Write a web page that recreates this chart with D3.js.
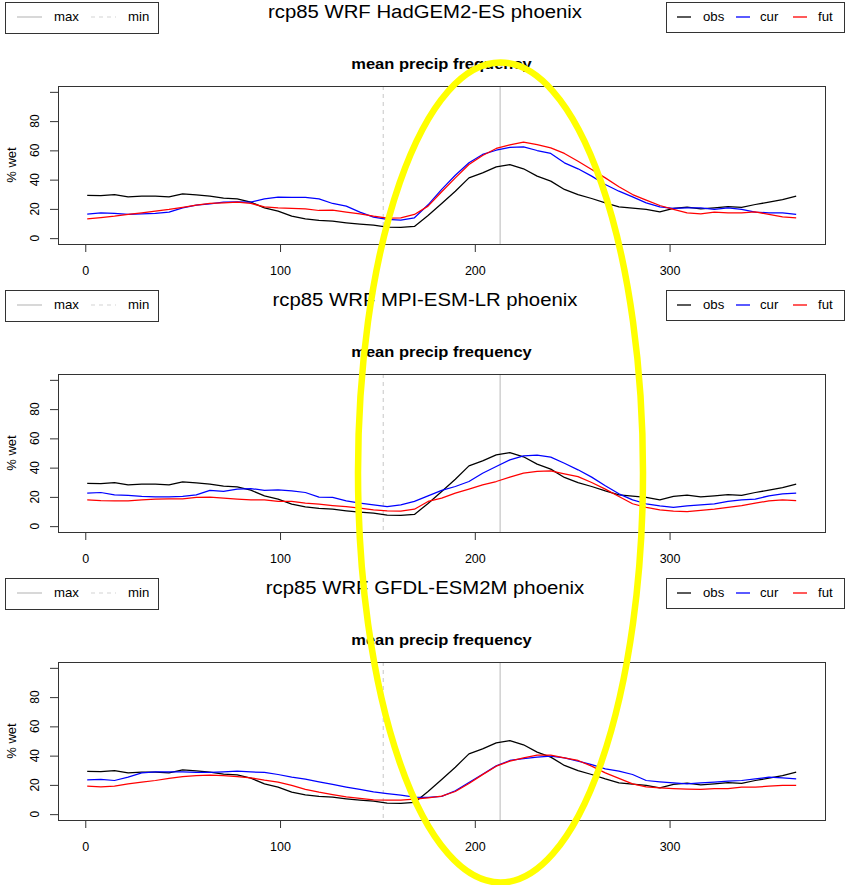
<!DOCTYPE html>
<html>
<head>
<meta charset="utf-8">
<script src="https://cdn.jsdelivr.net/npm/d3@7"></script>
<style>
  body { margin: 0; background: #fff; }
  svg { display: block; }
  text { font-family: "Liberation Sans", Arial, Helvetica, sans-serif; fill: #000; }
</style>
</head>
<body>
<div id="chart"></div>
<script>
const days = [1, 8, 15, 22, 29, 36, 43, 50, 57, 64, 71, 78, 85, 92, 99, 106, 113, 120, 127, 134,
  141, 148, 155, 162, 169, 176, 183, 190, 197, 204, 211, 218, 225, 232, 239, 246, 253, 260, 267, 274,
  281, 288, 295, 302, 309, 316, 323, 330, 337, 344, 351, 358, 365];

// observed % wet days (same in every panel)
const obs = [29.2, 29, 29.8, 28.2, 28.7, 28.7, 28.2, 30.3, 29.6, 28.7, 27.3, 26.9, 24.6, 20.7, 18.5, 15, 13.2, 12.1, 11.6, 10.5,
  9.6, 8.9, 7.5, 7.3, 8.0, 15.5, 23.7, 32.1, 41.2, 44.6, 48.7, 50.3, 47.4, 42.4, 39, 33.3, 29.8, 27.1, 24.1, 21.4,
  20.5, 19.6, 18, 20.3, 21.2, 20, 20.7, 21.6, 21, 23, 24.6, 26.4, 28.7];

// HadGEM2-ES
const curHadGEM = [16.4, 17.3, 16.9, 16.2, 16.6, 16.9, 17.8, 20.7, 22.5, 23.5, 24.6, 24.8, 24.6, 26.9, 28, 27.8, 27.8, 26.9, 23.7, 21.9,
  17.8, 14.4, 12.8, 12.3, 13.9, 22.8, 33.3, 43, 51.5, 57.2, 60.1, 62, 62.4, 59.9, 57.9, 51.5, 47.4, 42.4, 36.7, 32.1,
  28.2, 24.1, 21.4, 20.3, 20.7, 20.7, 19.6, 20.7, 19.6, 17.8, 17.3, 17.3, 16.2];
const futHadGEM = [13.2, 14.1, 15, 16.2, 17.3, 18.5, 19.6, 21, 22.5, 23.7, 24.1, 24.6, 23.7, 21.4, 20.7, 20.3, 20, 18.9, 19.1, 17.8,
  16.6, 15, 13.7, 13.9, 16.2, 21.9, 31.7, 41.2, 50.3, 56.5, 61.3, 63.8, 65.6, 64, 61.7, 57.9, 52.6, 46.9, 41.2, 35.1,
  29.8, 26, 22.3, 19.6, 17.3, 16.6, 17.8, 17.3, 17.3, 18, 16.2, 14.6, 13.9];

// MPI-ESM-LR
const curMPI = [22.6, 23, 21.4, 21, 20.3, 20, 20, 20.3, 21.4, 24.4, 23.7, 25.3, 25.7, 24.4, 24.8, 24.1, 23, 19.8, 19.6, 17.3,
  15.7, 14.6, 13.4, 14.6, 16.9, 20.7, 24.5, 27.1, 30.5, 36.2, 40.8, 45.3, 48, 48.5, 47.2, 43, 38.5, 33.5, 27.6, 22.1,
  18, 15.3, 13.9, 12.8, 13.9, 14.6, 15.3, 16.9, 18, 18.5, 20.7, 22.1, 22.6];
const futMPI = [18, 17.5, 17.3, 17.3, 18, 18.5, 18.7, 18.7, 19.6, 19.8, 19.1, 18.5, 18, 18, 16.9, 16.9, 15.7, 15, 14.1, 13.4,
  12.3, 11.2, 10.5, 10.3, 11.6, 16.9, 19.1, 22.6, 25.3, 28.2, 30.5, 33.5, 36.2, 37.4, 37.8, 35.8, 33.9, 29.8, 25.3, 20.3,
  15.3, 12.8, 11.2, 10.3, 10, 10.7, 11.6, 12.8, 14.1, 15.7, 17.3, 18, 17.5];

// GFDL-ESM2M
const curGFDL = [23.5, 23.7, 23, 25.3, 28.2, 28.9, 28.9, 28.9, 28.5, 28.5, 28.9, 29.4, 28.9, 28.5, 27.1, 25.3, 23.9, 22.1, 20.3, 18.5,
  16.9, 15.3, 14.1, 13, 11.6, 11.4, 12.1, 16, 21.6, 27.3, 33, 36.7, 38, 39, 39.6, 38.5, 36.2, 33.9, 31, 29.4,
  27.1, 23, 22.1, 21.4, 20.7, 21.4, 21.9, 22.6, 23, 24.1, 25.3, 24.8, 24.1];
const futGFDL = [19.1, 18.7, 19.1, 20.7, 21.9, 23, 24.4, 25.7, 26.4, 26.7, 26.4, 25.7, 24.8, 23.2, 21.9, 19.6, 16.9, 15, 13.4, 11.8,
  10.7, 9.8, 9.6, 9.6, 10.3, 11.2, 12.3, 15.5, 21, 27, 32.8, 36.2, 38.5, 40.3, 40.3, 38.5, 36.7, 32.8, 28.2, 24.4,
  20.7, 18.7, 18, 17.5, 17.1, 16.9, 17.5, 17.5, 18.5, 18.5, 19.1, 19.6, 19.6];

const models = ['HadGEM2-ES', 'MPI-ESM-LR', 'GFDL-ESM2M'];
const curByModel = [curHadGEM, curMPI, curGFDL];
const futByModel = [futHadGEM, futMPI, futGFDL];

// days of the observed max / min marked by vertical lines
const maxDay = 213;
const minDay = 153;

const xTicks = [0, 100, 200, 300];
const yTicks = [0, 20, 40, 60, 80, 100];
const yLabels = [0, 20, 40, 60, 80];

const seriesNames = ['obs', 'cur', 'fut'];
const seriesColors = ['#000000', '#0000ff', '#ff0000'];

const W = 846, H = 885;
const panelStep = 288;
const plot = { left: 58, right: 825, top: 86, bottom: 244 };

const svg = d3.select('#chart').append('svg')
  .attr('width', W)
  .attr('height', H);

const x = d3.scaleLinear()
  .domain([-14, 379.8])
  .range([plot.left, plot.right]);

// text in the reference is a little wider than the font, stretch it
function addText(g, tx, ty, str, size, opts = {}) {
  const sx = opts.sx || 1.1;
  const rot = opts.rotate ? ` rotate(${opts.rotate})` : '';
  return g.append('text')
    .attr('transform', `translate(${tx},${ty}) scale(${sx},1)${rot}`)
    .attr('font-size', size)
    .attr('font-weight', opts.bold ? 'bold' : 'normal')
    .attr('text-anchor', opts.anchor || 'start')
    .text(str);
}

function drawPanel(k) {
  const off = k * panelStep;
  const g = svg.append('g').attr('transform', `translate(0,${off})`);

  const y = d3.scaleLinear()
    .domain([-4, 104])
    .range([plot.bottom, plot.top]);

  // legend for max / min lines
  g.append('rect')
    .attr('x', 5.5).attr('y', 2.5).attr('width', 153).attr('height', 31)
    .attr('fill', '#fff').attr('stroke', '#333').attr('stroke-width', 1);
  g.append('line')
    .attr('x1', 17).attr('x2', 42).attr('y1', 17).attr('y2', 17)
    .attr('stroke', '#bebebe').attr('stroke-width', 1.2);
  addText(g, 54, 21, 'max', 12);
  g.append('line')
    .attr('x1', 91).attr('x2', 116).attr('y1', 17).attr('y2', 17)
    .attr('stroke', '#d3d3d3').attr('stroke-width', 1.2)
    .attr('stroke-dasharray', '4,4');
  addText(g, 128, 21, 'min', 12);

  // title
  addText(g, 425, 18, `rcp85 WRF ${models[k]} phoenix`, 18, { anchor: 'middle', sx: 1.13 });

  // legend for series
  g.append('rect')
    .attr('x', 666.5).attr('y', 2.5).attr('width', 178).attr('height', 30)
    .attr('fill', '#fff').attr('stroke', '#333').attr('stroke-width', 1);
  const legX = [677, 736, 793];
  const legTextX = [703, 760, 818];
  seriesNames.forEach((name, i) => {
    g.append('line')
      .attr('x1', legX[i]).attr('x2', legX[i] + 14).attr('y1', 17).attr('y2', 17)
      .attr('stroke', seriesColors[i]).attr('stroke-width', 1.3);
    addText(g, legTextX[i], 21, name, 12);
  });

  // subtitle
  addText(g, (plot.left + plot.right) / 2, 68.5, 'mean precip frequency', 15, { anchor: 'middle', bold: true });

  // axes
  const xAxis = g.append('g')
    .attr('transform', `translate(0,${plot.bottom})`)
    .call(d3.axisBottom(x).tickValues(xTicks).tickSize(8).tickSizeOuter(0).tickPadding(14));
  xAxis.selectAll('text')
    .attr('font-size', 12.5)
    .attr('font-family', '"Liberation Sans", Arial, sans-serif')
    .attr('fill', '#000');
  xAxis.selectAll('line').attr('stroke', '#333');
  xAxis.select('.domain').attr('stroke', 'none');

  const yAxis = g.append('g')
    .attr('transform', `translate(${plot.left},0)`)
    .call(d3.axisLeft(y).tickValues(yTicks).tickSize(8).tickSizeOuter(0).tickFormat(''));
  yAxis.selectAll('line').attr('stroke', '#333');
  yAxis.select('.domain').attr('stroke', 'none');

  yLabels.forEach(v => {
    addText(g, 39.3, y(v), String(v), 12, { anchor: 'middle', rotate: -90 });
  });
  addText(g, 16, (plot.top + plot.bottom) / 2, '% wet', 13, { anchor: 'middle', rotate: -90, sx: 1.05 });

  // vertical lines for the days of max / min
  g.append('line')
    .attr('x1', x(maxDay)).attr('x2', x(maxDay))
    .attr('y1', plot.top).attr('y2', plot.bottom)
    .attr('stroke', '#c4c4c4').attr('stroke-width', 1.2);
  g.append('line')
    .attr('x1', x(minDay)).attr('x2', x(minDay))
    .attr('y1', plot.top).attr('y2', plot.bottom)
    .attr('stroke', '#d0d0d0').attr('stroke-width', 1.2)
    .attr('stroke-dasharray', '4,4');

  // series lines
  const line = d3.line()
    .x((d, i) => x(days[i]))
    .y(d => y(d));
  const series = [obs, curByModel[k], futByModel[k]];
  series.forEach((vals, i) => {
    g.append('path')
      .datum(vals)
      .attr('fill', 'none')
      .attr('stroke', seriesColors[i])
      .attr('stroke-width', 1.25)
      .attr('stroke-linejoin', 'round')
      .attr('d', line);
  });

  // plot box
  g.append('rect')
    .attr('x', plot.left + 0.5).attr('y', plot.top + 0.5)
    .attr('width', plot.right - plot.left).attr('height', plot.bottom - plot.top)
    .attr('fill', 'none').attr('stroke', '#333').attr('stroke-width', 1);
}

models.forEach((m, k) => drawPanel(k));

// yellow highlight ellipse drawn over the summer peak in all panels
svg.append('ellipse')
  .attr('cx', 500.5)
  .attr('cy', 472.5)
  .attr('rx', 142.5)
  .attr('ry', 410)
  .attr('fill', 'none')
  .attr('stroke', '#ffff00')
  .attr('stroke-width', 6.5);
</script>
</body>
</html>
